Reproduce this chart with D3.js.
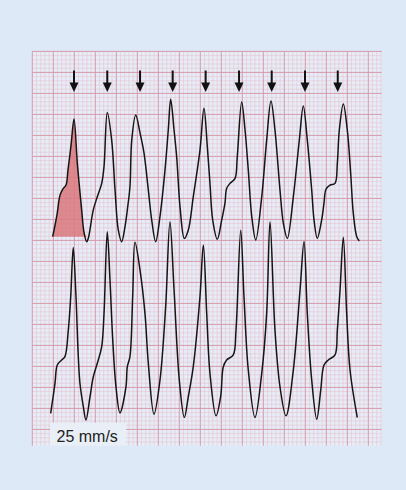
<!DOCTYPE html>
<html>
<head>
<meta charset="utf-8">
<script src="https://cdn.jsdelivr.net/npm/d3@7"></script>
<style>
  body { margin: 0; background: #dde9f6; }
  svg { display: block; }
</style>
</head>
<body>
<script>
const width = 406;
const height = 490;

// ECG data: time in ms from the left edge of the paper, amplitude in mV
const topTimes = [194, 235, 264, 292, 321, 340, 369, 397, 430, 470, 492, 518,
  533, 581, 619, 661, 683, 714, 756, 788, 819, 851,
  883, 905, 930, 947, 985, 1026, 1064, 1105, 1137, 1175,
  1216, 1264, 1295, 1318, 1350, 1375, 1407, 1448,
  1486, 1533, 1597, 1635, 1667, 1692, 1718, 1762,
  1804, 1835, 1851, 1883, 1931, 1952, 1994, 2026, 2057, 2090, 2128,
  2185, 2232, 2273, 2311, 2359, 2391, 2429,
  2486, 2543, 2581, 2619, 2661, 2683, 2714,
  2756, 2778, 2797, 2835, 2883, 2905, 2924, 2962, 3000, 3032, 3057, 3090, 3114];
const topVolts = [0, 0.52, 0.99, 1.14, 1.23, 1.59, 2.18, 2.80, 1.71, 0.64, 0.11, -0.12,
  -0.04, 0.64, 0.95, 1.27, 1.67, 2.96, 2.30, 1.11, 0.16, -0.12,
  0.24, 0.64, 1.19, 2.30, 2.90, 2.47, 1.99, 1.11, 0.40, -0.12,
  0.48, 1.59, 2.54, 3.27, 2.54, 1.90, 0.71, -0.04,
  0.16, 0.95, 2.06, 3.06, 2.14, 1.27, 0.40, -0.06,
  0.40, 0.80, 1.15, 1.27, 1.39, 1.90, 3.21, 2.54, 1.59, 0.48, -0.08,
  0.95, 2.30, 3.23, 2.54, 1.11, 0.32, -0.04,
  0.95, 2.30, 3.11, 2.30, 1.11, 0.40, -0.04,
  0.40, 0.80, 1.13, 1.23, 1.27, 1.75, 2.54, 3.16, 2.54, 1.51, 0.56, 0.00, -0.10];

const bottomTimes = [175, 216, 238, 280, 311, 343, 366, 390, 416, 438, 454, 486, 511,
  550, 581, 619, 661, 683, 714, 740, 766, 797, 835,
  892, 905, 930, 956, 978, 1026, 1073, 1105, 1159,
  1216, 1270, 1311, 1350, 1400, 1448,
  1486, 1533, 1597, 1629, 1661, 1692, 1750,
  1794, 1819, 1851, 1914, 1940, 1985, 2016, 2057, 2121,
  2185, 2232, 2264, 2311, 2359, 2416,
  2486, 2550, 2588, 2619, 2661, 2709,
  2747, 2778, 2819, 2883, 2905, 2931, 2962, 2994, 3026, 3095];
const bottomVolts = [0, 0.71, 1.15, 1.27, 1.35, 1.98, 2.78, 3.95, 2.78, 1.35, 0.71, 0.16, -0.16,
  0.40, 0.87, 1.19, 1.59, 2.38, 4.32, 3.17, 1.75, 0.63, 0.01,
  0.63, 1.11, 1.35, 2.78, 4.07, 3.41, 2.38, 1.19, -0.02,
  0.79, 2.54, 4.56, 2.94, 0.79, -0.10,
  0.40, 1.11, 2.78, 4.01, 2.38, 0.95, -0.06,
  0.40, 1.11, 1.27, 1.39, 1.98, 4.36, 2.78, 1.03, -0.10,
  0.95, 2.38, 4.56, 1.98, 0.63, -0.06,
  1.03, 2.94, 4.09, 2.38, 0.79, -0.14,
  0.55, 1.15, 1.27, 1.39, 1.98, 2.94, 4.19, 2.38, 1.03, -0.10];

// beats marked with an arrow (ms)
const arrowTimes = [397, 714, 1026, 1337, 1651, 1969, 2280, 2597, 2909];
// the first complex is shaded up to this time (ms)
const shadedEnd = 518;
const speedLabel = "25 mm/s";

// paper: 25 mm/s, 10 mm/mV, 1 mm = 4.2 px
const mm = 4.2;
const paper = { x: 32.3, y: 51.4, wMm: 83.2, hMm: 93.9 };
const paperW = paper.wMm * mm;
const paperH = paper.hMm * mm;

const svg = d3.select("body")
  .append("svg")
  .attr("width", width)
  .attr("height", height);

svg.append("rect")
  .attr("width", width)
  .attr("height", height)
  .attr("fill", "#dde9f6");

// Scale
const x = d3.scaleLinear()
  .domain([0, paper.wMm / 25 * 1000])
  .range([paper.x, paper.x + paperW]);
const gx = d3.scaleLinear().domain([0, paper.wMm]).range([paper.x, paper.x + paperW]);
const gy = d3.scaleLinear().domain([0, paper.hMm]).range([paper.y, paper.y + paperH]);
const yTop = d3.scaleLinear().domain([0, 1]).range([236.7, 236.7 - 10 * mm]);
const yBottom = d3.scaleLinear().domain([0, 1]).range([413.3, 413.3 - 10 * mm]);

// Carta millimetrata
svg.append("rect")
  .attr("x", paper.x)
  .attr("y", paper.y)
  .attr("width", paperW)
  .attr("height", paperH)
  .attr("fill", "#e6edf8");

const grid = svg.append("g");
[false, true].forEach(major => {
  const vx = d3.range(0, Math.floor(paper.wMm) + 1).filter(i => (i % 5 === 0) === major);
  const hy = d3.range(0, Math.floor(paper.hMm) + 1).filter(i => (i % 5 === 0) === major);
  const col = major ? "#d69aab" : "#e6c2cf";
  const sw = major ? 1 : 0.6;
  grid.selectAll(null).data(vx).join("line")
    .attr("x1", d => gx(d)).attr("x2", d => gx(d))
    .attr("y1", paper.y).attr("y2", paper.y + paperH)
    .attr("stroke", col).attr("stroke-width", sw);
  grid.selectAll(null).data(hy).join("line")
    .attr("y1", d => gy(d)).attr("y2", d => gy(d))
    .attr("x1", paper.x).attr("x2", paper.x + paperW)
    .attr("stroke", col).attr("stroke-width", sw);
});

const topData = topTimes.map((t, i) => ({ t, v: topVolts[i] }));
const bottomData = bottomTimes.map((t, i) => ({ t, v: bottomVolts[i] }));

// Primo complesso colorato
const shaded = topData.filter(d => d.t <= shadedEnd);
svg.append("path")
  .datum(shaded)
  .attr("d", d3.area()
    .x(d => x(d.t))
    .y0(yTop(0))
    .y1(d => yTop(Math.max(d.v, 0)))
    .curve(d3.curveCatmullRom))
  .attr("fill", "#d9787d")
  .attr("fill-opacity", 0.85);

const line = yScale => d3.line()
  .x(d => x(d.t))
  .y(d => yScale(d.v))
  .curve(d3.curveCatmullRom);

[[topData, yTop], [bottomData, yBottom]].forEach(([data, yScale]) => {
  svg.append("path")
    .datum(data)
    .attr("d", line(yScale))
    .attr("fill", "none")
    .attr("stroke", "#151515")
    .attr("stroke-width", 1.5)
    .attr("stroke-linejoin", "round");
});

// Frecce
const arrows = svg.append("g").attr("fill", "#111").attr("stroke", "#111");
arrowTimes.forEach(t => {
  const ax = x(t);
  arrows.append("line")
    .attr("x1", ax).attr("x2", ax)
    .attr("y1", 70.5).attr("y2", 84)
    .attr("stroke-width", 2);
  arrows.append("path")
    .attr("d", `M${ax - 4.5},82.5 L${ax + 4.5},82.5 L${ax},92 Z`)
    .attr("stroke", "none");
});

// Etichetta velocita
svg.append("rect")
  .attr("x", 50)
  .attr("y", 422.7)
  .attr("width", 76)
  .attr("height", 23)
  .attr("fill", "#e9eff7");

svg.append("text")
  .attr("x", 56.5)
  .attr("y", 441.5)
  .attr("font-family", "'Liberation Sans', Arial, sans-serif")
  .attr("font-size", 16)
  .attr("fill", "#222")
  .text(speedLabel);
</script>
</body>
</html>
